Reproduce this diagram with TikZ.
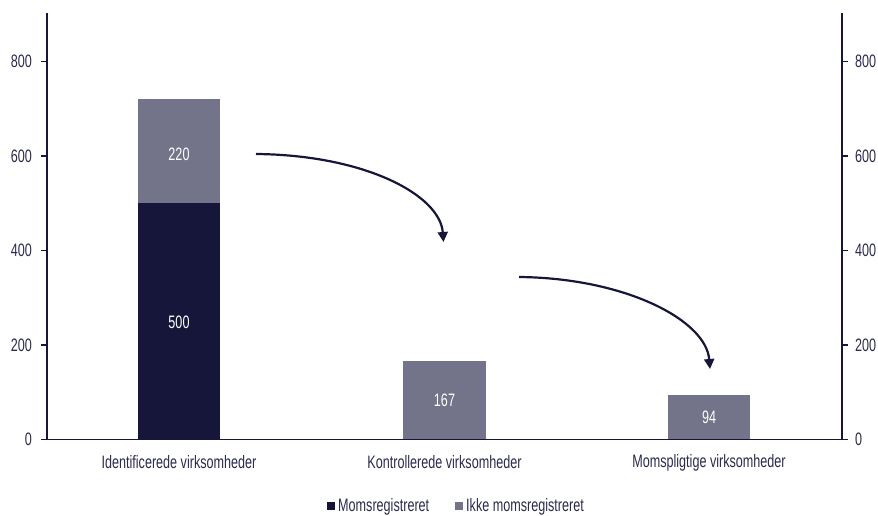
\documentclass[tikz,border=0pt]{standalone}
\usepackage{fontspec}
\setmainfont[FakeStretch=0.70]{Liberation Sans}
\usetikzlibrary{arrows.meta}
\definecolor{navy}{HTML}{16163A}
\definecolor{greybar}{HTML}{737389}
\definecolor{txt}{HTML}{2A2A4C}
\begin{document}
\begin{tikzpicture}[x=1pt,y=-1pt,
  lbl/.style={font=\fontsize{18}{20}\selectfont, text=txt, inner sep=0pt},
  vallbl/.style={font=\fontsize{18}{20}\selectfont, text=white, inner sep=0pt},
  axisline/.style={draw=navy, line width=1.6pt},
  tickline/.style={draw=navy, line width=1.2pt},
  flow/.style={draw=navy, line width=2.2pt, -{Triangle[length=10pt,width=10pt]}}]
\useasboundingbox (0,0) rectangle (878,516);
% axes
\coordinate (ltop) at (47,13);
\coordinate (lbot) at (47,439.5);
\coordinate (rtop) at (842,13);
\coordinate (rbot) at (842,439.5);
\draw[axisline] (ltop) -- (lbot);
\draw[axisline] (rtop) -- (rbot);
% ticks and labels
\foreach \v/\yy in {0/439.5,200/345,400/250.5,600/156,800/61.5}{
  \draw[tickline] (41,\yy) -- (47,\yy);
  \draw[tickline] (842,\yy) -- (848,\yy);
  \node[lbl, anchor=east] (l\v) at (32,\yy) {\v};
  \node[lbl, anchor=west] (r\v) at (855,\yy) {\v};
}
% bars
\fill[navy] (138,203.2) rectangle (220,439.5);
\fill[greybar] (138,99) rectangle (220,203.2);
\fill[greybar] (403,360.6) rectangle (486,439.5);
\fill[greybar] (668,395.1) rectangle (750,439.5);
\draw[axisline] (lbot) -- (rbot);
\node[vallbl] (v500) at (179,322) {500};
\node[vallbl] (v220) at (179,154) {220};
\node[vallbl] (v167) at (444.5,400.5) {167};
\node[vallbl] (v94) at (709,417.5) {94};
% categories
\node[lbl] (c1) at (179,462.5) {Identificerede virksomheder};
\node[lbl] (c2) at (444.5,462.5) {Kontrollerede virksomheder};
\node[lbl] (c3) at (709,462.5) {Momspligtige virksomheder};
% arrows
\coordinate (a1s) at (256,154);
\coordinate (a1e) at (443.5,242);
\coordinate (a2s) at (519,277);
\coordinate (a2e) at (710,369);
\draw[flow] (a1s) .. controls (365,155) and (440,195) .. (a1e);
\draw[flow] (a2s) .. controls (625,278) and (706,320) .. (a2e);
% legend
\fill[navy] (327,502) rectangle (335,510);
\node[lbl, anchor=west] (lg1) at (338,506.5) {Momsregistreret};
\fill[greybar] (455,502) rectangle (463,510);
\node[lbl, anchor=west] (lg2) at (466,506.5) {Ikke momsregistreret};
\end{tikzpicture}
\end{document}
